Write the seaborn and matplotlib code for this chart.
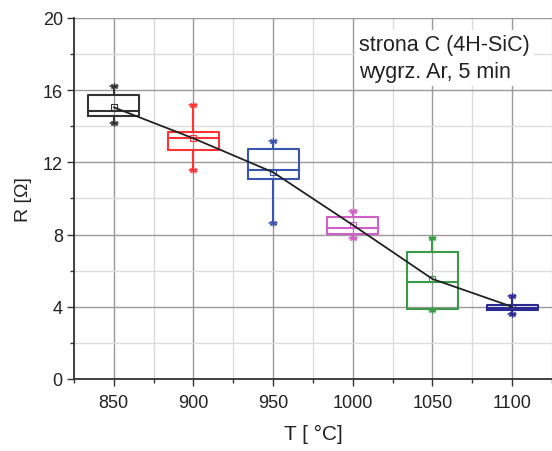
import matplotlib
matplotlib.use("Agg")
import matplotlib.pyplot as plt
import seaborn as sns
import pandas as pd
from matplotlib.ticker import MultipleLocator

temps = [850, 900, 950, 1000, 1050, 1100]
whisk_lo = [14.20, 11.58, 8.62, 7.81, 3.82, 3.62]
q1 = [14.59, 12.70, 11.06, 8.05, 3.90, 3.80]
medians = [14.83, 13.37, 11.60, 8.38, 5.37, 3.95]
q3 = [15.73, 13.70, 12.72, 8.96, 7.02, 4.08]
whisk_hi = [16.25, 15.20, 13.19, 9.29, 7.81, 4.58]
means = [15.05, 13.33, 11.45, 8.53, 5.54, 4.00]
colors = ["#333333", "#ff3333", "#3a55b0", "#d060c8", "#3a9a48", "#2a2a90"]

sns.set_theme(style="white")
plt.rcParams['font.family'] = ['Liberation Sans', 'DejaVu Sans']

fig = plt.figure(figsize=(5.52, 4.52), dpi=100)
ax = fig.add_axes([0.134, 0.1593, 0.866, 0.7987])

ax.set_xlim(825, 1125)
ax.set_ylim(0, 20)
ax.xaxis.set_major_locator(MultipleLocator(50))
ax.xaxis.set_minor_locator(MultipleLocator(25))
ax.yaxis.set_major_locator(MultipleLocator(4))
ax.yaxis.set_minor_locator(MultipleLocator(2))
ax.grid(True, which='major', color='#9a9a9a', lw=1.0, zorder=0)
ax.grid(True, which='minor', color='#dcdcdc', lw=1.0, zorder=0)
ax.set_axisbelow(True)

for i, t in enumerate(temps):
    stats = [dict(med=medians[i], q1=q1[i], q3=q3[i], whislo=whisk_lo[i],
                  whishi=whisk_hi[i], mean=means[i], fliers=[])]
    c = colors[i]
    ax.bxp(stats, positions=[t], widths=[32], showmeans=True, manage_ticks=False,
           showcaps=True, capwidths=[5],
           boxprops=dict(color=c, lw=1.5),
           medianprops=dict(color=c, lw=1.5),
           whiskerprops=dict(color=c, lw=1.5),
           capprops=dict(color=c, lw=1.1),
           meanprops=dict(marker='s', markersize=4, markerfacecolor='none',
                          markeredgecolor=c, markeredgewidth=0.8))
    ax.plot([t, t], [whisk_lo[i], whisk_hi[i]], ls='none', marker=(6, 2, 0),
            markersize=5, color=c, mew=0.9)

df = pd.DataFrame({"T": temps, "R": means})
sns.lineplot(data=df, x="T", y="R", ax=ax, color='#222222', lw=1.3, zorder=5)

ax.set_xticks(temps)
ax.set_xticklabels([str(t) for t in temps])
ax.tick_params(axis='both', which='major', direction='out', length=5, width=1.0,
               color='#333333', labelsize=13, labelcolor='#222222', bottom=True, left=True)
ax.tick_params(axis='both', which='minor', direction='out', length=3, width=1.0,
               color='#333333', bottom=True, left=True)
ax.tick_params(axis='x', pad=6)
ax.tick_params(axis='y', pad=3)

for s in ['top', 'right']:
    ax.spines[s].set_visible(False)
for s in ['left', 'bottom']:
    ax.spines[s].set_color('#333333')
    ax.spines[s].set_linewidth(1.3)

ax.set_xlabel("T [ °C]", fontsize=15, color='#222222', labelpad=9)
ax.set_ylabel("R [Ω]", fontsize=14, color='#222222', labelpad=8)

ax.text(0.597, 0.955, "strona C (4H-SiC)\nwygrz. Ar, 5 min", transform=ax.transAxes,
        ha='left', va='top', fontsize=15.5, color='#222222', linespacing=1.38,
        bbox=dict(facecolor='white', edgecolor='none', pad=3), zorder=10)

fig.savefig("out.png", dpi=100)
